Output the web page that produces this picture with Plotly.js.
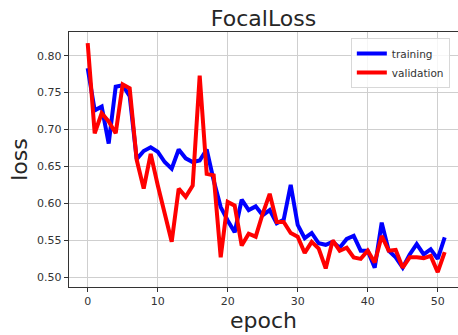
<!DOCTYPE html>
<html>
<head>
<meta charset="utf-8">
<script src="https://cdn.plot.ly/plotly-3.0.1.min.js"></script>
<style>html,body{margin:0;padding:0;background:#fff;}#chart{width:458px;height:335px;}</style>
</head>
<body>
<div id="chart"></div>
<script>
const epochs = Array.from({length: 52}, (_, i) => i);
const trainingLoss = [
  0.783, 0.726, 0.731, 0.681, 0.758, 0.760, 0.745, 0.660, 0.671, 0.676,
  0.670, 0.656, 0.647, 0.673, 0.661, 0.656, 0.658, 0.673, 0.631, 0.595,
  0.577, 0.561, 0.605, 0.591, 0.596, 0.584, 0.591, 0.573, 0.578, 0.625,
  0.571, 0.553, 0.560, 0.546, 0.544, 0.548, 0.540, 0.552, 0.556, 0.536,
  0.536, 0.513, 0.574, 0.536, 0.527, 0.513, 0.531, 0.545, 0.531, 0.538,
  0.525, 0.554
];
const validationLoss = [
  0.817, 0.695, 0.722, 0.711, 0.695, 0.761, 0.756, 0.659, 0.620, 0.667,
  0.625, 0.585, 0.548, 0.620, 0.609, 0.624, 0.773, 0.640, 0.638, 0.527,
  0.602, 0.597, 0.543, 0.559, 0.555, 0.586, 0.613, 0.575, 0.575, 0.560,
  0.555, 0.533, 0.548, 0.539, 0.512, 0.550, 0.536, 0.540, 0.527, 0.525,
  0.536, 0.520, 0.556, 0.536, 0.537, 0.513, 0.527, 0.527, 0.526, 0.529,
  0.507, 0.534
];
const xTicks = [0, 10, 20, 30, 40, 50];
const yTicks = [0.50, 0.55, 0.60, 0.65, 0.70, 0.75, 0.80];

const font = 'DejaVu Sans, sans-serif';
const traces = [
  {x: epochs, y: trainingLoss, name: 'training', mode: 'lines',
   line: {color: '#0000ff', width: 4}},
  {x: epochs, y: validationLoss, name: 'validation', mode: 'lines',
   line: {color: '#ff0000', width: 4}}
];
const layout = {
  width: 458, height: 335,
  margin: {l: 69, r: 0, t: 32, b: 48, pad: 0},
  paper_bgcolor: '#fff', plot_bgcolor: '#fff',
  font: {family: font, color: '#262626', size: 11},
  title: {text: 'FocalLoss', font: {family: font, size: 22, color: '#262626'},
          x: 0.5, xref: 'paper', xanchor: 'center', y: 0.945, yref: 'container', yanchor: 'middle'},
  xaxis: {
    range: [-2.67, 52.9], tickvals: xTicks, ticktext: xTicks.map(String),
    showgrid: true, gridcolor: '#cfcfcf', gridwidth: 1.5, zeroline: false,
    showline: true, linecolor: '#333', linewidth: 1.2, mirror: true,
    ticks: 'outside', ticklen: 4, tickcolor: '#333', tickwidth: 1,
    tickfont: {family: font, size: 11, color: '#333'},
    title: {text: 'epoch', font: {family: font, size: 22, color: '#262626'}, standoff: 4}
  },
  yaxis: {
    range: [0.4869, 0.832], tickvals: yTicks, ticktext: yTicks.map(v => v.toFixed(2)),
    showgrid: true, gridcolor: '#cfcfcf', gridwidth: 1.5, zeroline: false,
    showline: true, linecolor: '#333', linewidth: 1.2, mirror: false,
    ticks: 'outside', ticklen: 4, tickcolor: '#333', tickwidth: 1,
    tickfont: {family: font, size: 11, color: '#333'},
    title: {text: 'loss', font: {family: font, size: 22, color: '#262626'}, standoff: 3}
  },
  showlegend: true,
  legend: {
    x: 0.979, xanchor: 'right', y: 0.976, yanchor: 'top',
    bgcolor: 'rgba(255,255,255,0.8)', bordercolor: '#d8d8d8', borderwidth: 1,
    font: {family: font, size: 10.5, color: '#333'},
    tracegroupgap: 0, itemwidth: 30
  }
};
Plotly.newPlot('chart', traces, layout, {displayModeBar: false, staticPlot: true});
</script>
</body>
</html>
